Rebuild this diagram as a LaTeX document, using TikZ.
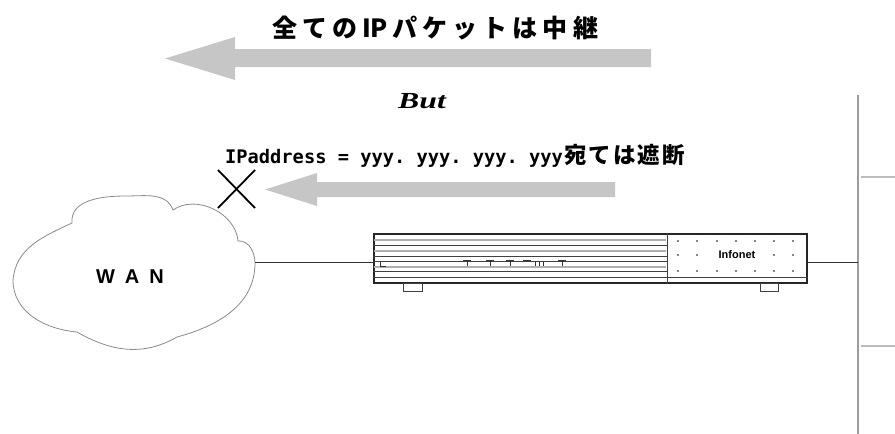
\documentclass[tikz,border=0pt]{standalone}
\usepackage{fontspec}
\usetikzlibrary{calc}
\newfontfamily\jpfont{Noto Sans CJK JP}
\newfontfamily\monofont{DejaVu Sans Mono}
\newfontfamily\timesfont{Liberation Serif}
\newfontfamily\arialfont{Liberation Sans}
\newcommand\fullcell[1]{\makebox[24.6pt]{#1}}
\definecolor{arrowgray}{HTML}{C6C6C6}
\definecolor{cloudline}{HTML}{8A8A8A}
\definecolor{busgray}{HTML}{9C9C9C}
\definecolor{stubgray}{HTML}{BDBDBD}
\definecolor{trimgray}{HTML}{AFAFAF}
\tikzset{
  flowarrow/.style={fill=arrowgray, draw=none},
  cloudshape/.style={draw=cloudline, line width=0.8pt, fill=white},
  routerbox/.style={draw=black!85, line width=1.3pt, minimum width=433pt,
    minimum height=49pt, inner sep=0pt},
  trimdark/.style={draw=black!75, line width=0.7pt},
  trimlight/.style={draw=trimgray, line width=1.4pt},
  ledmark/.style={draw=black!80, line width=0.9pt},
  panelbolt/.style={fill=black!65, draw=none},
  foot/.style={draw=black!75, line width=0.8pt, fill=white},
  wire/.style={draw=black!80, line width=0.7pt},
  bus/.style={draw=busgray, line width=2.4pt},
  stub/.style={draw=stubgray, line width=2pt},
  crossmark/.style={draw=black, line width=1.8pt},
}
\begin{document}
\frenchspacing
\begin{tikzpicture}[x=1pt,y=-1pt]
\useasboundingbox (0,0) rectangle (895,434);

% --- headline and the wide arrow below it
\node[anchor=base, inner sep=0pt] (title) at (435,37)
  {\jpfont\bfseries\fontsize{25}{30}\selectfont
   \makebox[326pt][s]{全\hfill て\hfill の\hfill IP\hfill パ\hfill ケ\hfill ッ\hfill ト\hfill は\hfill 中\hfill 継}};
\fill[flowarrow] (651,49) -- (235,49) -- (235,37) -- (165,58.5)
  -- (235,80) -- (235,67) -- (651,67) -- cycle;

\node[anchor=base, inner sep=0pt] (but) at (422,108)
  {\timesfont\bfseries\itshape\fontsize{23}{26}\selectfont\scalebox{1.38}[1]{But}};

% --- filter rule and the blocked arrow
\node[anchor=base west, inner sep=0pt] (rule) at (225,163)
  {\fontsize{18.7}{22}\selectfont\monofont\bfseries IPaddress = yyy. yyy. yyy. yyy%
   \jpfont\fontsize{22.5}{26}\selectfont
   \fullcell{宛}\fullcell{て}\fullcell{は}\fullcell{遮}\fullcell{断}};
\fill[flowarrow] (615,182) -- (317,182) -- (317,173) -- (265,189.5)
  -- (317,206) -- (317,197) -- (615,197) -- cycle;

\coordinate (cross) at (236.5,189);
\draw[crossmark] ($(cross)+(-18.5,-19)$) -- ($(cross)+(18.5,19)$);
\draw[crossmark] ($(cross)+(18.5,-19)$) -- ($(cross)+(-18.5,19)$);

% --- WAN cloud
\draw[cloudshape] (13,280) to[out=85,in=205] (72,223)
  to[out=95,in=180] (126,196) to[out=0,in=110] (173,210)
  to[out=35,in=95] (238,241)
  to[out=5,in=90] (255,263) to[out=-90,in=15] (177,337)
  to[out=-150,in=-30] (77,332)
  to[out=175,in=-90] (13,280) -- cycle;
\node[anchor=base, inner sep=0pt] (wan) at (130,283)
  {\arialfont\bfseries\fontsize{20}{24}\selectfont W\hspace{10pt}A\hspace{10pt}N};
\coordinate (wanport) at (255,262);

% --- router
\node[routerbox] (router) at (590.5,258.5) {};
\coordinate (divider) at (667,0);
\draw[trimdark] (divider |- router.north) -- (divider |- router.south);
\foreach \y in {245,256,261,271}
  \draw[trimdark] (router.west |- 0,\y) -- (divider |- 0,\y);
\foreach \y in {240,251,267}
  \draw[trimlight] ([xshift=1pt]router.west |- 0,\y) -- ([xshift=-1pt]divider |- 0,\y);
\draw[trimdark] (router.west |- 0,277) -- (router.east |- 0,277);
% front-panel indicator labels
\draw[ledmark] (380,262) -- (380,266) -- (386,266);
\foreach \x in {467,490,510,562}
  \draw[ledmark] (\x-4,260) -- (\x+4,260) (\x,260) -- (\x,266);
\draw[ledmark] (523,260) -- (531,260);
\foreach \x in {535,539,543}
  \draw[ledmark] (\x,261) -- (\x,266);
% right panel with bolts and badge
\foreach \x in {678,697,717,736,755,774,793}
  \foreach \y in {241,271}
    \fill[panelbolt] (\x,\y) circle (1.2pt);
\foreach \x in {678,697,774,793}
  \fill[panelbolt] (\x,255) circle (1.2pt);
\node[inner sep=0pt] (badge) at (737,255)
  {\arialfont\bfseries\fontsize{11}{12}\selectfont Infonet};
% feet
\draw[foot] (403,283) rectangle (422,291);
\draw[foot] (760,283) rectangle (778,291);

% --- LAN bus
\coordinate (bustop) at (858,95);
\coordinate (busbottom) at (858,434);
\draw[bus] (bustop) -- (busbottom);
\coordinate (stubA) at (895,177);
\coordinate (stubB) at (895,346);
\draw[stub] (bustop |- stubA) ++(3,0) -- (stubA);
\draw[stub] (bustop |- stubB) ++(3,0) -- (stubB);

% --- links
\draw[wire] (wanport) -- (wanport -| router.west);
\draw[wire] (router.east |- wanport) -- (bustop |- wanport);
\end{tikzpicture}
\end{document}
